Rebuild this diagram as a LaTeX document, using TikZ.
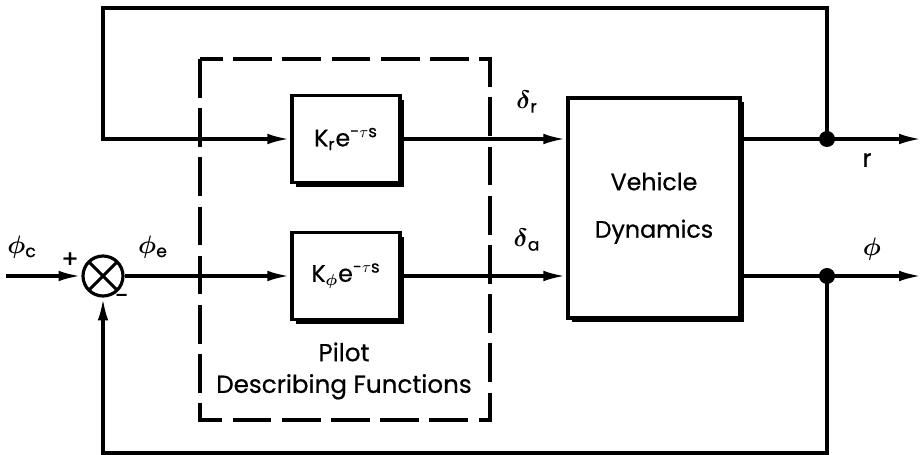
\documentclass[tikz,border=0pt]{standalone}
\usepackage{fontspec}
\setmainfont{Poppins}[FakeBold=0.6]
\usetikzlibrary{arrows.meta,shadows}

\begin{document}
\begin{tikzpicture}[
    >={Latex[length=13pt,width=6pt]},
    sig/.style={->, line width=2pt},
    block/.style={draw, line width=2pt, fill=white, align=center,
        font=\fontsize{13.5}{27}\selectfont,
        drop shadow={shadow xshift=2.5pt, shadow yshift=-2.5pt, opacity=1, fill=black}},
    sumjunc/.style={circle, draw, line width=1.8pt, minimum size=0.8cm, inner sep=0pt,
        path picture={
            \draw[line width=1.8pt] (path picture bounding box.north west) -- (path picture bounding box.south east);
            \draw[line width=1.8pt] (path picture bounding box.north east) -- (path picture bounding box.south west);
        }},
    lbl/.style={font=\fontsize{14}{18}\selectfont\boldmath},
    dot/.style={circle, fill, inner sep=0pt, minimum size=0.32cm}
]
    \useasboundingbox (0,0) rectangle (18.46,-9.1);

    % Blocks
    \node[sumjunc] (sum) at (2.06,-5.52) {};
    \node[block, minimum width=2.16cm, minimum height=1.74cm] (kr) at (6.92,-2.78)
        {K\textsubscript{r}e\textsuperscript{-$\tau$s}};
    \node[block, minimum width=2.16cm, minimum height=1.74cm] (kphi) at (6.92,-5.52)
        {K\textsubscript{\boldmath$\phi$}e\textsuperscript{-$\tau$s}};
    \node[block, minimum width=3.44cm, minimum height=4.4cm] (veh) at (13.08,-4.16)
        {Vehicle\\Dynamics};

    % Pilot frame
    \draw[line width=2pt, dash pattern=on 22pt off 6pt] (4,-1.18) rectangle (9.8,-8.4);
    \node[lbl, align=center] (pilot) at (6.88,-7.42) {Pilot\\Describing Functions};

    % Free ends and branch points
    \coordinate (in) at (0.12,-5.52);
    \coordinate (top) at (0,-0.16);
    \coordinate (bot) at (0,-9.06);
    \node[dot] (rdot) at (16.54,-2.78) {};
    \node[dot] (phidot) at (16.54,-5.52) {};
    \coordinate (rout) at (18.44,-2.78);
    \coordinate (phiout) at (18.44,-5.52);

    % Signal paths
    \draw[sig] (in) -- (sum);
    \draw[sig] (sum) -- (kphi);
    \draw[sig] (kr) -- (veh.west |- kr);
    \draw[sig] (kphi) -- (veh.west |- kphi);
    \draw[sig] (veh.east |- kr) -- (rout);
    \draw[sig] (veh.east |- kphi) -- (phiout);

    % Feedback loops
    \draw[sig] (rdot.center) |- (sum |- top) |- (kr);
    \draw[sig] (phidot.center) |- (sum |- bot) -- (sum);

    % Signal labels
    \node[lbl] (phic) at (0.44,-4.94) {$\phi$\textsubscript{c}};
    \node[lbl] (plus) at (1.4,-5.2) {+};
    \node[lbl] (minus) at (2.44,-5.98) {-};
    \node[lbl] (phie) at (3.06,-4.94) {$\phi$\textsubscript{e}};
    \node[lbl] (dr) at (10.54,-2.04) {$\delta$\textsubscript{r}};
    \node[lbl] (da) at (10.54,-4.8) {$\delta$\textsubscript{a}};
    \node[lbl] (rlbl) at (17.34,-3.2) {r};
    \node[lbl] (philbl) at (17.44,-4.98) {$\phi$};
\end{tikzpicture}
\end{document}
